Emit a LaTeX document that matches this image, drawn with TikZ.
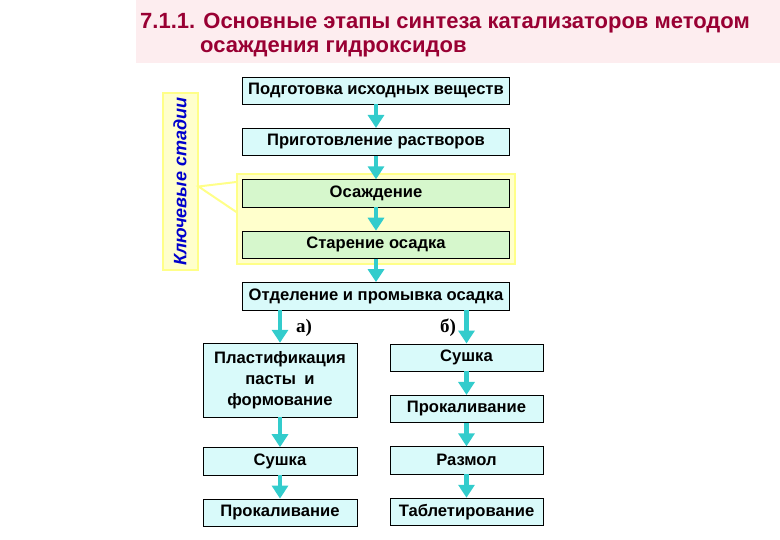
\documentclass[tikz,border=0pt]{standalone}
\usepackage{fontspec}
\setmainfont{Liberation Sans}
\newfontfamily\labelserif{Liberation Serif}
\usetikzlibrary{arrows.meta,positioning,fit,backgrounds}
\definecolor{titlered}{HTML}{990033}
\definecolor{pinkback}{HTML}{FDEDEF}
\definecolor{cyanback}{HTML}{D9FAFA}
\definecolor{greenback}{HTML}{D6F7CC}
\definecolor{arrowcyan}{HTML}{33CCCC}
\definecolor{hlback}{HTML}{FFFFCC}
\definecolor{hlborder}{HTML}{FFFF88}
\definecolor{keyblue}{HTML}{0000CC}

\begin{document}
\begin{tikzpicture}[
  x=1pt,y=-1pt,
  node distance=23.5pt and 30pt,
  title/.style={anchor=west,inner sep=0pt,text=titlered,font=\fontsize{22}{26}\selectfont\bfseries},
  box/.style={draw=black,fill=cyanback,align=center,inner sep=2pt,minimum width=267pt,minimum height=27.5pt,font=\fontsize{16.6}{21}\selectfont\bfseries},
  greenbox/.style={box,fill=greenback},
  sidebox/.style={box,minimum width=154pt},
  branch/.style={inner sep=0pt,font=\labelserif\fontsize{19}{22}\selectfont\bfseries},
  arr/.style={-{Triangle[width=16pt,length=13pt]},line width=4.5pt,draw=arrowcyan},
  callout/.style={draw=hlborder,line width=2pt}
]
\useasboundingbox (0,0) rectangle (780,540);
\fill[pinkback] (136,0) rectangle (780,63);
\node[title] (title1) at (140,23) {7.1.1. Основные этапы синтеза катализаторов методом};
\node[title] (title2) at (200,49) {осаждения гидроксидов};

% main chain
\node[box] (podg) at (376,90.5) {Подготовка исходных веществ};
\node[box,below=of podg] (prig) {Приготовление растворов};
\node[greenbox,below=of prig] (osazh) {Осаждение};
\node[greenbox,below=of osazh] (staren) {Старение осадка};
\node[box,below=of staren] (otdel) {Отделение и промывка осадка};

% key stages
\begin{scope}[on background layer]
\node[fit=(osazh)(staren),inner sep=5pt,draw=hlborder,fill=hlback,line width=2pt] (hl) {};
\end{scope}
\node[draw=hlborder,fill=hlback,line width=2pt,rotate=90,minimum width=177pt,minimum height=35pt,inner sep=0pt,
  text=keyblue,font=\fontsize{18}{20}\selectfont\bfseries\itshape] (key) at (180,181.5) {Ключевые стадии};
\coordinate (tip) at ([yshift=-5pt]key.south);
\coordinate (cup) at (hl.west |- 0,182);
\coordinate (clow) at (hl.west |- 0,212);
\draw[callout] (cup) -- (tip) -- (clow);

% branch a)
\node[sidebox,minimum height=74pt] (plast) at (280,380) {Пластификация\\пасты\enspace и\\формование};
\node[sidebox,below=30pt of plast] (sushA) {Сушка};
\node[sidebox,below=of sushA] (prokA) {Прокаливание};

% branch b)
\node[sidebox,minimum width=153pt] (sushB) at (466.5,357.5) {Сушка};
\node[sidebox,minimum width=153pt,below=of sushB] (prokB) {Прокаливание};
\node[sidebox,minimum width=153pt,below=of prokB] (razmol) {Размол};
\node[sidebox,minimum width=153pt,below=of razmol] (tablet) {Таблетирование};

\node[branch] (la) at (304,328) {а)};
\node[branch] (lb) at (448,328) {б)};

\draw[arr] (podg) -- (prig);
\draw[arr] (prig) -- (osazh);
\draw[arr] (osazh) -- (staren);
\draw[arr] (staren) -- (otdel);
\draw[arr] (otdel.south -| plast) -- (plast.north);
\draw[arr] (otdel.south -| sushB) -- (sushB.north);
\draw[arr] (plast) -- (sushA);
\draw[arr] (sushA) -- (prokA);
\draw[arr] (sushB) -- (prokB);
\draw[arr] (prokB) -- (razmol);
\draw[arr] (razmol) -- (tablet);
\end{tikzpicture}
\end{document}
